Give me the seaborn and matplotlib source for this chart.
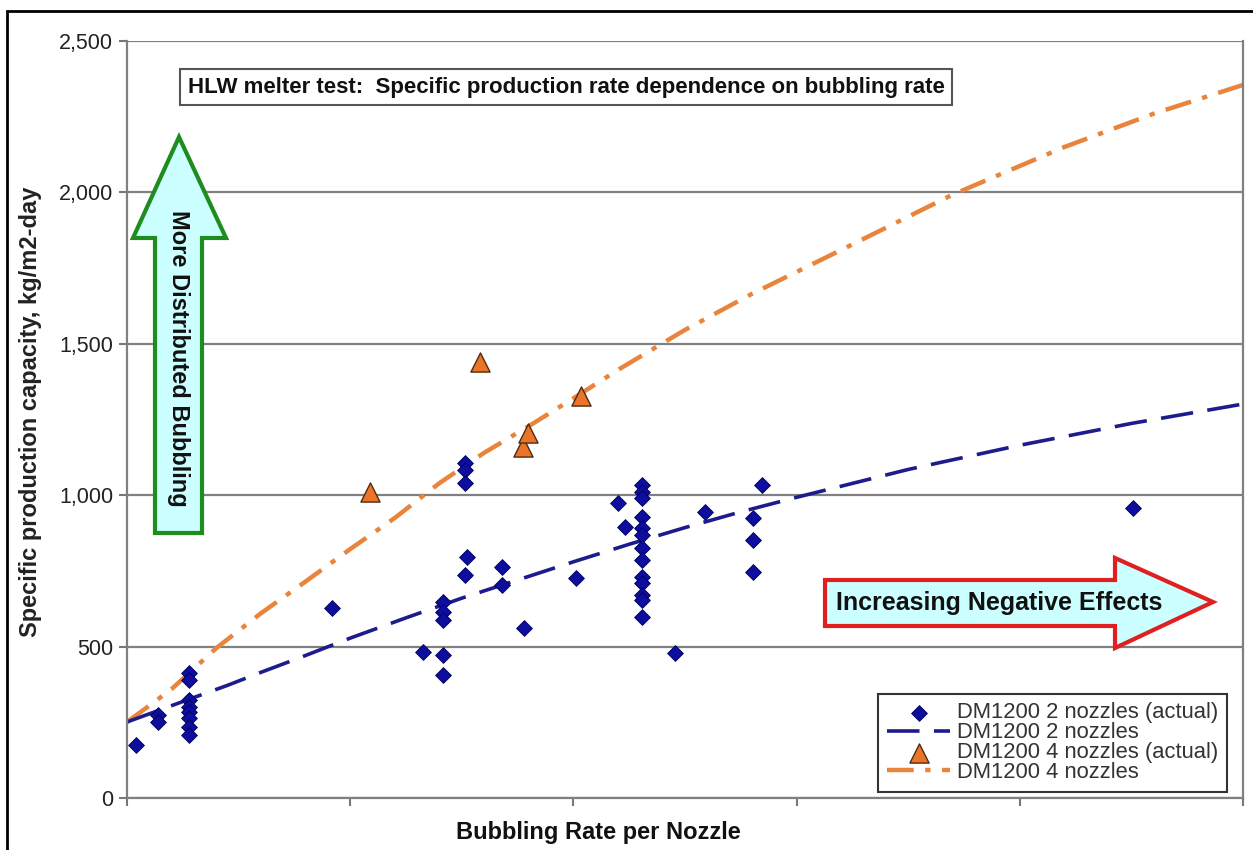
import numpy as np
import pandas as pd
import seaborn as sns
import matplotlib.pyplot as plt
from matplotlib.patches import Polygon, Rectangle

sns.set_theme(style="white")
plt.rcParams['font.family'] = ['Liberation Sans', 'DejaVu Sans']

# measured points, DM1200 2 nozzles
x2 = [0.04, 0.14, 0.14, 0.28, 0.28, 0.28, 0.28, 0.28, 0.28, 0.28, 0.28,
      0.92, 1.326, 1.416, 1.416, 1.416, 1.416, 1.416,
      1.514, 1.514, 1.514, 1.525, 1.514, 1.68, 1.68, 1.78, 2.01, 2.2, 2.23,
      2.307, 2.307, 2.307, 2.307, 2.307, 2.307, 2.307, 2.307, 2.307, 2.307, 2.307, 2.307, 2.307,
      2.455, 2.59, 2.845, 2.805, 2.805, 2.805, 4.507]
y2 = [175, 274, 251, 413, 390, 324, 300, 284, 264, 234, 208,
      627, 482, 647, 614, 588, 472, 406,
      1106, 1083, 1040, 796, 736, 763, 703, 561, 727, 974, 895,
      1034, 1011, 991, 928, 892, 869, 826, 786, 730, 710, 670, 654, 598,
      479, 945, 1034, 925, 852, 746, 958]

# measured points, DM1200 4 nozzles
x4 = [1.089, 1.582, 1.774, 1.797, 2.034]
y4 = [1011, 1440, 1159, 1205, 1328]

# fitted curves
fit2_x = [0, 0.1, 0.2, 0.3, 0.45, 0.6, 0.78, 1.0, 1.25, 1.5, 1.75, 2.0, 2.25, 2.5, 2.75, 3.0, 3.5, 4.0, 4.5, 5.0]
fit2_y = [251, 278, 305, 332, 372, 415, 465, 528, 595, 660, 720, 780, 838, 893, 945, 993, 1085, 1165, 1237, 1301]
fit4_x = [0, 0.1, 0.2, 0.4, 0.6, 0.8, 1.0, 1.2, 1.4, 1.6, 1.8, 2.0, 2.2, 2.5, 2.8, 3.2, 3.7, 4.2, 4.6, 5.0]
fit4_y = [251, 305, 360, 495, 610, 715, 822, 925, 1040, 1140, 1228, 1320, 1414, 1546, 1665, 1810, 1993, 2150, 2260, 2355]

df2 = pd.DataFrame({"rate": x2, "cap": y2})
df4 = pd.DataFrame({"rate": x4, "cap": y4})
f2 = pd.DataFrame({"rate": fit2_x, "cap": fit2_y})
f4 = pd.DataFrame({"rate": fit4_x, "cap": fit4_y})

fig = plt.figure(figsize=(12.53, 8.5), dpi=100)
ax = fig.add_axes([127/1253, 52/850, 1116/1253, 757/850])

sns.lineplot(data=f4, x="rate", y="cap", ax=ax, color="#E8843C", lw=3.2,
             linestyle=(0, (6, 2.6, 1.2, 2.6)), label="DM1200 4 nozzles", zorder=2)
sns.lineplot(data=f2, x="rate", y="cap", ax=ax, color="#1C1C8C", lw=2.6,
             linestyle=(0, (9, 4)), label="DM1200 2 nozzles", zorder=2)
sns.scatterplot(data=df2, x="rate", y="cap", ax=ax, marker="D", s=65,
                color="#0E0E9E", edgecolor="#00005A", linewidth=0.6,
                label="DM1200 2 nozzles (actual)", zorder=3)
sns.scatterplot(data=df4, x="rate", y="cap", ax=ax, marker="^", s=190,
                color="#EB7428", edgecolor="#4A2E14", linewidth=1.0,
                label="DM1200 4 nozzles (actual)", zorder=4)

ax.set_xlim(0, 5)
ax.set_ylim(0, 2500)
ax.set_xticks([0, 1, 2, 3, 4, 5])
ax.set_xticklabels([])
ax.set_yticks([0, 500, 1000, 1500, 2000, 2500])
ax.set_yticklabels(["0", "500", "1,000", "1,500", "2,000", "2,500"],
                   fontsize=15.5, color="#222222")
ax.tick_params(axis="both", direction="out", length=6, width=1.5, color="#777777",
               left=True, bottom=True, pad=4)
ax.grid(axis="y", color="#808080", lw=1.6)
ax.grid(axis="x", visible=False)
for side in ["left", "bottom", "right"]:
    ax.spines[side].set_color("#808080")
    ax.spines[side].set_linewidth(1.6)
ax.spines["top"].set_visible(False)

ax.set_xlabel("Bubbling Rate per Nozzle", fontsize=17, fontweight="bold", color="#111111")
ax.xaxis.set_label_coords(0.422, -0.031)
ax.set_ylabel("Specific production capacity, kg/m2-day", fontsize=17,
              fontweight="bold", color="#222222")
ax.yaxis.set_label_coords(-0.076, 0.51)

# legend in the order of the reference
h, l = ax.get_legend_handles_labels()
order = ["DM1200 2 nozzles (actual)", "DM1200 2 nozzles",
         "DM1200 4 nozzles (actual)", "DM1200 4 nozzles"]
hd = dict(zip(l, h))
leg = ax.legend([hd[k] for k in order], order, loc="lower right",
                bbox_to_anchor=(0.9857, 0.008), borderaxespad=0, fontsize=15.8,
                frameon=True, fancybox=False, edgecolor="#333333", framealpha=1,
                labelspacing=-0.05, handlelength=2.9, handletextpad=0.3,
                borderpad=0.4, labelcolor="#333333")
leg.get_frame().set_linewidth(1.5)

# title box
ax.text(0.3935, 0.939, "HLW melter test:  Specific production rate dependence on bubbling rate",
        transform=ax.transAxes, ha="center", va="center", fontsize=16,
        fontweight="bold", color="#111111",
        bbox=dict(boxstyle="square,pad=0.35", fc="white", ec="#555555", lw=1.5))


def pix(px, py):
    return ((px - 127) / 1116, (798 - py) / 757)


up = [pix(155, 533), pix(155, 238), pix(133, 238), pix(179, 137),
      pix(226, 238), pix(202, 238), pix(202, 533)]
ax.add_patch(Polygon(up, closed=True, transform=ax.transAxes, fc="#CCFFFF",
                     ec="#1E8C1E", lw=3, zorder=5, clip_on=False))
ax.text(*pix(178, 358), "More Distributed Bubbling", transform=ax.transAxes,
        rotation=270, ha="center", va="center", fontsize=17, fontweight="bold",
        color="#111111", zorder=6)

right = [pix(825, 580), pix(1115, 580), pix(1115, 558), pix(1213, 602),
         pix(1115, 648), pix(1115, 626), pix(825, 626)]
ax.add_patch(Polygon(right, closed=True, transform=ax.transAxes, fc="#CCFFFF",
                     ec="#E02020", lw=3, zorder=5, clip_on=False))
ax.text(*pix(999, 603), "Increasing Negative Effects", transform=ax.transAxes,
        ha="center", va="center", fontsize=18, fontweight="bold", color="#111111", zorder=6)

# outer frame
fig.add_artist(Rectangle((7/1253, -0.05), 1.2, (850 - 11)/850 + 0.05,
                         transform=fig.transFigure, fill=False, ec="black", lw=2))

fig.savefig("out.png", dpi=100)
